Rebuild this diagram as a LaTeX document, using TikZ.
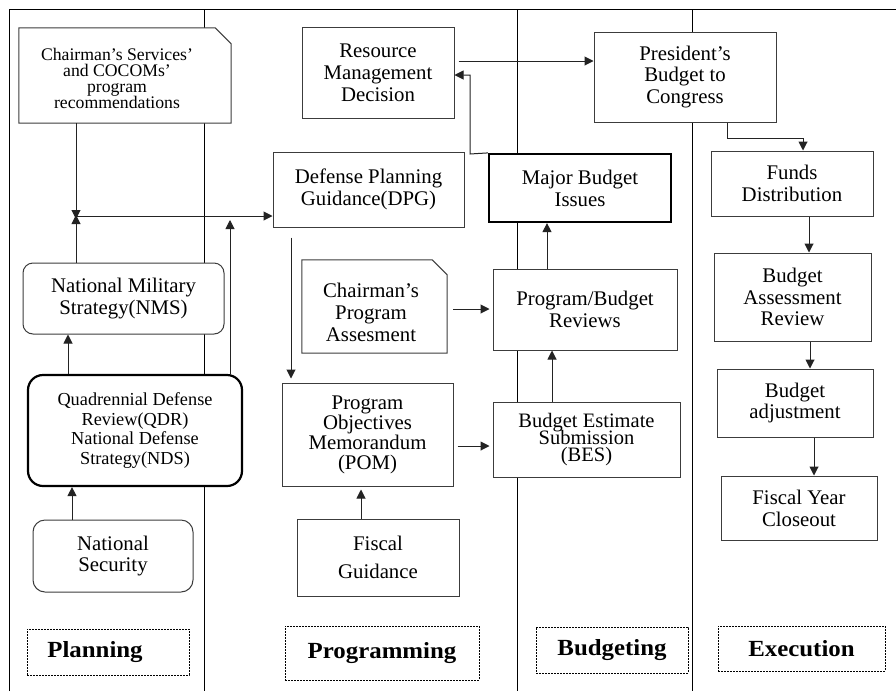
\documentclass[tikz,border=0pt]{standalone}
\usepackage{fontspec}
\usepackage{graphicx}
\setmainfont{Liberation Serif}
\usetikzlibrary{arrows.meta}
\definecolor{bord}{RGB}{60,60,60}
\definecolor{arrc}{RGB}{35,35,35}
\newcommand\mylsk{\lineskiplimit=-30pt\relax}
\newcommand\lanetext[1]{\scalebox{1.13}[1.05]{#1}}
\begin{document}
\begin{tikzpicture}[x=1pt,y=-1pt,
  frameline/.style={line width=0.9pt, draw=black},
  box/.style={draw=bord, line width=1pt, fill=white, align=center, inner sep=0pt,
    font=\fontsize{20.8}{21.8}\selectfont\mylsk},
  thickbox/.style={box, line width=2.2pt, draw=black},
  rbox/.style={box, rounded corners=10pt},
  docbox/.style={draw=none, fill=none, inner sep=0pt},
  txt/.style={align=center, inner sep=0pt, font=\fontsize{20.8}{21.8}\selectfont\mylsk},
  lane/.style={draw=black, line width=0.8pt, dash pattern=on 2pt off 1pt, inner sep=0pt,
    font=\bfseries\fontsize{22}{22}\selectfont},
  arr/.style={draw=arrc, line width=1pt, -{Triangle[length=9pt,width=9pt]}}
]
\useasboundingbox (0,0) rectangle (896,691);
\fill[white] (0,0) rectangle (896,691);
% frame and lanes
\draw[frameline] (9,691) -- (9,9) -- (896,9);
\draw[frameline] (204,9) -- (204,691);
\draw[frameline] (517,9) -- (517,691);
\draw[frameline] (692,9) -- (692,691);

% Planning lane
\node[docbox, minimum width=212pt, minimum height=95pt] (css) at (125,75.5) {};
\filldraw[draw=bord, line width=1pt, fill=white] (css.north west) -- ([xshift=-16pt]css.north east)
  -- ([yshift=-16pt]css.north east) -- (css.south east) -- (css.south west) -- cycle;
\node[txt, font=\fontsize{17.7}{16}\selectfont\mylsk] (csstext) at (117,78)
  {Chairman’s Services’\\and COCOMs’\\program\\recommendations};

\node[rbox, minimum width=201pt, minimum height=71pt] (nms) at (123.5,298.5)
  {National Military\\Strategy(NMS)};
\node[box, rounded corners=15pt, line width=2.2pt, draw=black, minimum width=214pt, minimum height=111pt,
  font=\fontsize{18.3}{19.5}\selectfont] (qdr) at (135,430.5)
  {Quadrennial Defense\\Review(QDR)\\National Defense\\Strategy(NDS)};
\node[rbox, rounded corners=12pt, minimum width=160pt, minimum height=72pt] (ns) at (113,556)
  {National\\Security};

% Programming lane
\node[box, minimum width=152pt, minimum height=91pt] (rmd) at (378,72.5)
  {Resource\\Management\\Decision};
\node[box, minimum width=191pt, minimum height=75pt] (dpg) at (368.5,189.5)
  {Defense Planning\\Guidance(DPG)};
\node[docbox, minimum width=145pt, minimum height=93pt] (cpa) at (374.5,306.5) {};
\filldraw[draw=bord, line width=1pt, fill=white] (cpa.north west) -- ([xshift=-15pt]cpa.north east)
  -- ([yshift=-15pt]cpa.north east) -- (cpa.south east) -- (cpa.south west) -- cycle;
\node[txt, font=\fontsize{20.8}{22}\selectfont\mylsk] (cpatext) at (371,312)
  {Chairman’s\\Program\\Assesment};
\node[box, minimum width=171pt, minimum height=103pt, font=\fontsize{20.8}{20}\selectfont\mylsk] (pom) at (367.5,434.5)
  {Program\\Objectives\\Memorandum\\(POM)};
\node[box, minimum width=162pt, minimum height=77pt, font=\fontsize{20.8}{28}\selectfont] (fg) at (378,557.5)
  {Fiscal\\Guidance};

% Budgeting lane
\node[thickbox, minimum width=182pt, minimum height=68pt] (mbi) at (580,188)
  {Major Budget\\Issues};
\node[box, minimum width=184pt, minimum height=81pt] (pbr) at (585,309.5)
  {Program/Budget\\Reviews};
\node[box, minimum width=187pt, minimum height=75pt, font=\fontsize{20.5}{17}\selectfont\mylsk] (bes) at (586.5,439.5)
  {Budget Estimate\\Submission\\(BES)};

% Execution lane
\node[box, minimum width=182pt, minimum height=90pt] (pbc) at (685,77)
  {President’s\\Budget to\\Congress};
\node[box, minimum width=162pt, minimum height=65pt] (fd) at (792,183.5)
  {Funds\\Distribution};
\node[box, minimum width=157pt, minimum height=88pt] (bar) at (792.5,297)
  {Budget\\Assessment\\Review};
\node[box, minimum width=156pt, minimum height=68pt] (ba) at (795,403)
  {Budget\\adjustment};
\node[box, minimum width=156pt, minimum height=64pt] (fyc) at (799,508)
  {Fiscal Year\\Closeout};

% lane labels
\node[lane, minimum width=162pt, minimum height=46pt] (lplan) at (108,652) {\lanetext{Planning}\hspace*{26pt}};
\node[lane, minimum width=194pt, minimum height=54pt] (lprog) at (382,653) {\lanetext{Programming}};
\node[lane, minimum width=152pt, minimum height=46pt] (lbud) at (612,650) {\lanetext{Budgeting}};
\node[lane, minimum width=167pt, minimum height=45pt] (lexe) at (801.5,648.5) {\lanetext{Execution}};

% connectors
\coordinate (jn) at (76,216);
\draw[arr] (css.south -| 76,0) -- (76,219);
\draw[arr] (nms.north -| 76,0) -- (76,215);
\draw[arr] (jn) -- (dpg.west |- jn);
\draw[arr] (qdr.north -| 230,0) -- (230,220);
\draw[arr] (qdr.north -| 68,0) -- (nms.south -| 68,0);
\draw[arr] (ns.north -| 72,0) -- (qdr.south -| 72,0);
\draw[arr, shorten <=10pt, shorten >=4pt] (dpg.south -| 291,0) -- (pom.north -| 291,0);
\draw[arr, shorten >=3pt] (fg.north -| 361,0) -- (pom.south -| 361,0);
\draw[arr, shorten <=6pt, shorten >=3pt] (cpa.east |- 0,309) -- (pbr.west |- 0,309);
\draw[arr, shorten <=4pt, shorten >=3pt] (pom.east |- 0,446) -- (bes.west |- 0,446);
\draw[arr] (bes.north -| 552,0) -- (pbr.south -| 552,0);
\draw[arr] (pbr.north -| 547,0) -- (mbi.south -| 547,0);
\draw[arr] (mbi.north west) -- (470,154) -- (470,75) -- (rmd.east |- 0,75);
\draw[arr, shorten <=4pt] (rmd.east |- 0,61) -- (pbc.west |- 0,61);
\draw[arr] (pbc.south -| 727,0) -- (727,138) -- (803,138) -- (fd.north -| 803,0);
\draw[arr] (fd.south -| 809,0) -- (bar.north -| 809,0);
\draw[arr] (bar.south -| 810,0) -- (ba.north -| 810,0);
\draw[arr] (ba.south -| 814,0) -- (fyc.north -| 814,0);
\end{tikzpicture}
\end{document}
